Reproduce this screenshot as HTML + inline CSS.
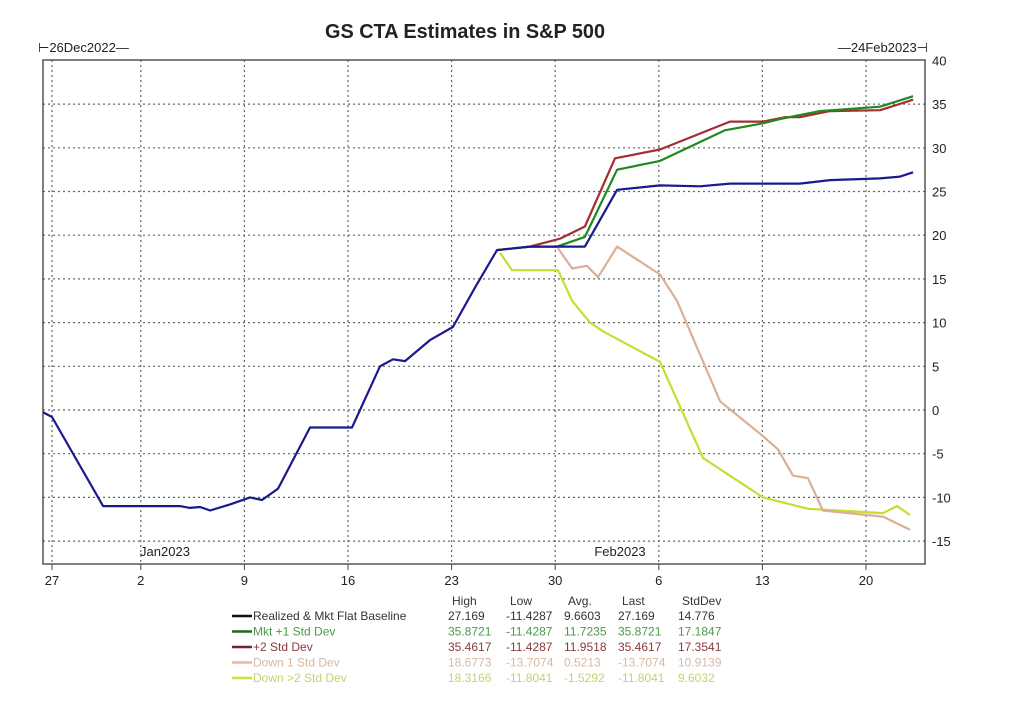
<!DOCTYPE html>
<html><head><meta charset="utf-8"><style>
body{margin:0;background:#fff;width:1024px;height:712px;overflow:hidden;font-family:"Liberation Sans",sans-serif}
</style></head><body>
<svg id="chart" width="1024" height="712" xmlns="http://www.w3.org/2000/svg">
<text x="465" y="38" text-anchor="middle" font-size="20" font-weight="bold" fill="#222" textLength="280" lengthAdjust="spacingAndGlyphs">GS CTA Estimates in S&amp;P 500</text>
<text x="38" y="52" font-size="13" fill="#222">⊢26Dec2022—</text>
<text x="928" y="52" font-size="13" fill="#222" text-anchor="end">—24Feb2023⊣</text>
<g id="grid"></g>
<rect x="43" y="60" width="882" height="504" fill="none" stroke="#555" stroke-width="1.5"/>
<g id="series"></g>
<text x="165" y="556" font-size="13" fill="#222" text-anchor="middle">Jan2023</text>
<text x="620" y="556" font-size="13" fill="#222" text-anchor="middle">Feb2023</text>
<g id="legend" font-size="12"></g>
</svg>
<script>
const yTicks=[40,35,30,25,20,15,10,5,0,-5,-10,-15];
const xTickDays=[0,6,13,20,27,34,41,48,55];
const xTickLabels=["27","2","9","16","23","30","6","13","20"];
// days since 27 Dec 2022
const blueDays=[-0.9,0,3.45,8.65,9.32,10,10.68,12.03,13.38,14.19,15.27,17.43,20.27,22.16,23.04,23.85,25.54,27.09,28.58,30.07,32.3,34.32,36.01,38.18,41.08,43.78,45.81,50.54,52.57,55.95,57.3,58.18];
const blueVals=[0,-0.8,-11,-11,-11.2,-11.1,-11.5,-10.8,-10,-10.3,-9,-2,-2,5,5.8,5.6,8,9.5,14,18.3,18.7,18.7,18.7,25.2,25.7,25.6,25.9,25.9,26.3,26.5,26.7,27.2];
const greenDays=[30.07,32.3,34.12,36.01,38.18,41.08,45.47,48.04,49.19,51.89,55.95,58.18];
const greenVals=[18.3,18.7,18.7,19.8,27.5,28.5,32,32.8,33.3,34.2,34.7,35.9];
const redDays=[30.07,32.3,34.32,36.01,38.04,41.08,45.81,48.04,49.53,50.54,52.57,55.95,58.18];
const redVals=[18.3,18.7,19.6,21,28.8,29.8,33,33,33.5,33.5,34.2,34.3,35.5];
const tanDays=[34.19,35.14,36.15,36.89,38.18,41.08,42.23,45.14,48.04,49.05,50.07,51.08,52.09,56.15,57.97];
const tanVals=[18.5,16.2,16.5,15.2,18.7,15.5,12.5,1,-3,-4.5,-7.5,-7.8,-11.5,-12.2,-13.7];
const ylwDays=[30.27,31.08,34.19,35.14,36.35,37.23,41.08,43.99,48.04,51.08,56.15,57.09,57.97];
const ylwVals=[18,16,16,12.5,10,9,5.5,-5.5,-10,-11.3,-11.8,-11,-12];
const legNames=["Realized & Mkt Flat Baseline","Mkt +1 Std Dev","+2 Std Dev","Down 1 Std Dev","Down >2 Std Dev"];
const legColors=["#1a1a8c","#1f8a1f","#a33030","#d9b095","#c8dc30"];
const legLineColors=["#111","#1f6a1f","#7a2030","#e8b8a0","#d0e040"];
const legTextColors=["#333","#4a9a4a","#8a3a3a","#d8b8a0","#c8d070"];
const statHeaders=["High","Low","Avg.","Last","StdDev"];
const statHigh=["27.169","35.8721","35.4617","18.6773","18.3166"];
const statLow=["-11.4287","-11.4287","-11.4287","-13.7074","-11.8041"];
const statAvg=["9.6603","11.7235","11.9518","0.5213","-1.5292"];
const statLast=["27.169","35.8721","35.4617","-13.7074","-11.8041"];
const statSd=["14.776","17.1847","17.3541","10.9139","9.6032"];

const NS="http://www.w3.org/2000/svg";
const X=d=>52+d*14.8;
const Y=v=>410-v*8.74;
function mk(tag,attrs,parent){const e=document.createElementNS(NS,tag);for(const k in attrs)e.setAttribute(k,attrs[k]);parent.appendChild(e);return e;}
const grid=document.getElementById('grid');
yTicks.forEach(v=>{
  if(v<40){const l=mk('line',{x1:43,x2:925,y1:Y(v),y2:Y(v),stroke:'#666','stroke-width':1.2,'stroke-dasharray':'2,3'},grid);
  
  }
  const t=mk('text',{x:932,y:Y(v)+5,'font-size':13,fill:'#222'},grid);t.textContent=v;
  
  
});
xTickDays.forEach((d,i)=>{
  const l=mk('line',{x1:X(d),x2:X(d),y1:60,y2:564,stroke:'#666','stroke-width':1.2,'stroke-dasharray':'2,3'},grid);
  
  
  const tk=mk('line',{x1:X(d),x2:X(d),y1:564,y2:570,stroke:'#444'},grid);
  
  
  const t=mk('text',{x:X(d),y:585,'font-size':13,fill:'#222','text-anchor':'middle'},grid);t.textContent=xTickLabels[i];
  
  
});
const sg=document.getElementById('series');
const cp=mk('clipPath',{id:'clip'},sg);
mk('rect',{x:43,y:60,width:882,height:504},cp);
const series=[[ylwDays,ylwVals,legColors[4],'series-down-2sd'],[tanDays,tanVals,legColors[3],'series-down-1sd'],[redDays,redVals,legColors[2],'series-plus-2sd'],[greenDays,greenVals,legColors[1],'series-plus-1sd'],[blueDays,blueVals,legColors[0],'series-baseline']];
series.forEach(s=>{
  const pts=s[0].map((d,i)=>X(d).toFixed(1)+','+Y(s[1][i]).toFixed(1)).join(' ');
  const p=mk('polyline',{points:pts,fill:'none',stroke:s[2],'stroke-width':2.2,'stroke-linejoin':'round','clip-path':'url(#clip)'},sg);
  
  
});
const lg=document.getElementById('legend');
const cols=[452,510,568,622,682];
statHeaders.forEach((h,i)=>{const t=mk('text',{x:cols[i],y:605,fill:'#333'},lg);t.textContent=h;
  
  });
const stats=[statHigh,statLow,statAvg,statLast,statSd];
legNames.forEach((n,r)=>{
  const y=620+r*15.5;
  const l=mk('line',{x1:232,x2:252,y1:y-4,y2:y-4,stroke:legLineColors[r],'stroke-width':2.5},lg);
  
  
  const t=mk('text',{x:253,y:y,fill:legTextColors[r]},lg);t.textContent=n;
  
  
  stats.forEach((arr,c)=>{const s=mk('text',{x:cols[c]-4,y:y,fill:legTextColors[r]},lg);s.textContent=arr[r];
    
    });
});
</script>
</body></html>
